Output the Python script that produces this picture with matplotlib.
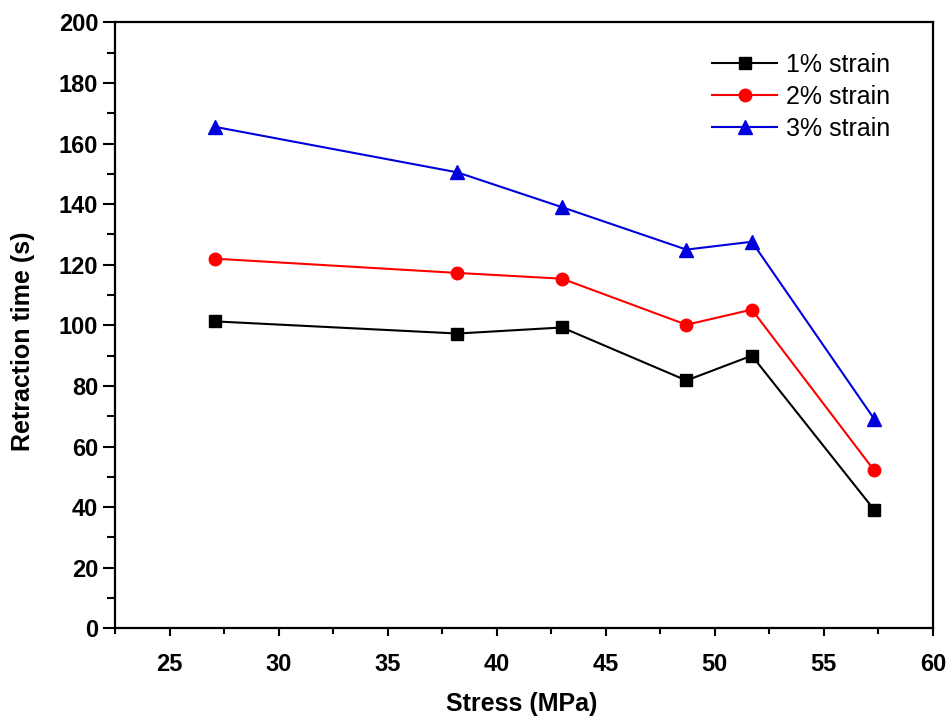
import matplotlib
matplotlib.use("Agg")
import matplotlib.pyplot as plt
from matplotlib.ticker import MultipleLocator

plt.rcParams['font.family'] = ['Liberation Sans', 'DejaVu Sans']

# stress values (MPa) and retraction times (s)
stress = [27.1, 38.2, 43.0, 48.7, 51.7, 57.3]
strain_1 = [101.3, 97.3, 99.3, 81.8, 90.0, 39.2]
strain_2 = [122.0, 117.3, 115.4, 100.2, 105.2, 52.2]
strain_3 = [165.5, 150.5, 139.0, 125.0, 127.6, 69.2]
labels = ['1% strain', '2% strain', '3% strain']

fig = plt.figure(figsize=(9.49, 7.23), dpi=100)
ax = fig.add_axes([0.1212, 0.131, 0.8618, 0.838])

ax.plot(stress, strain_1, color='black', marker='s', markersize=8.5, linewidth=1.5, label=labels[0])
ax.plot(stress, strain_2, color='red', marker='o', markersize=9, linewidth=1.5, label=labels[1])
ax.plot(stress, strain_3, color='#0000dd', marker='^', markersize=10, linewidth=1.5, label=labels[2])

ax.set_xlim(22.5, 60)
ax.set_ylim(0, 200)
ax.xaxis.set_major_locator(MultipleLocator(5))
ax.xaxis.set_minor_locator(MultipleLocator(2.5))
ax.yaxis.set_major_locator(MultipleLocator(20))
ax.yaxis.set_minor_locator(MultipleLocator(10))

for s in ax.spines.values():
    s.set_linewidth(1.6)
ax.tick_params(axis='both', which='both', direction='out', width=1.5, labelsize=17)
ax.tick_params(axis='y', which='major', length=9, pad=3)
ax.tick_params(axis='y', which='minor', length=5.5)
ax.tick_params(axis='x', which='major', length=6, pad=12)
ax.tick_params(axis='x', which='minor', length=4)
for lab in ax.get_xticklabels() + ax.get_yticklabels():
    lab.set_fontweight('bold')

ax.set_xlabel('Stress (MPa)', fontsize=18, fontweight='bold')
ax.set_ylabel('Retraction time (s)', fontsize=18, fontweight='bold')
ax.xaxis.set_label_coords(0.497, -0.105)
ax.yaxis.set_label_coords(-0.098, 0.474)

ax.legend(loc='upper right', bbox_to_anchor=(0.962, 0.958), bbox_transform=fig.transFigure,
          frameon=False, fontsize=18, handlelength=2.6, handletextpad=0.35, labelspacing=0.32)

fig.savefig('out.png', dpi=100)
